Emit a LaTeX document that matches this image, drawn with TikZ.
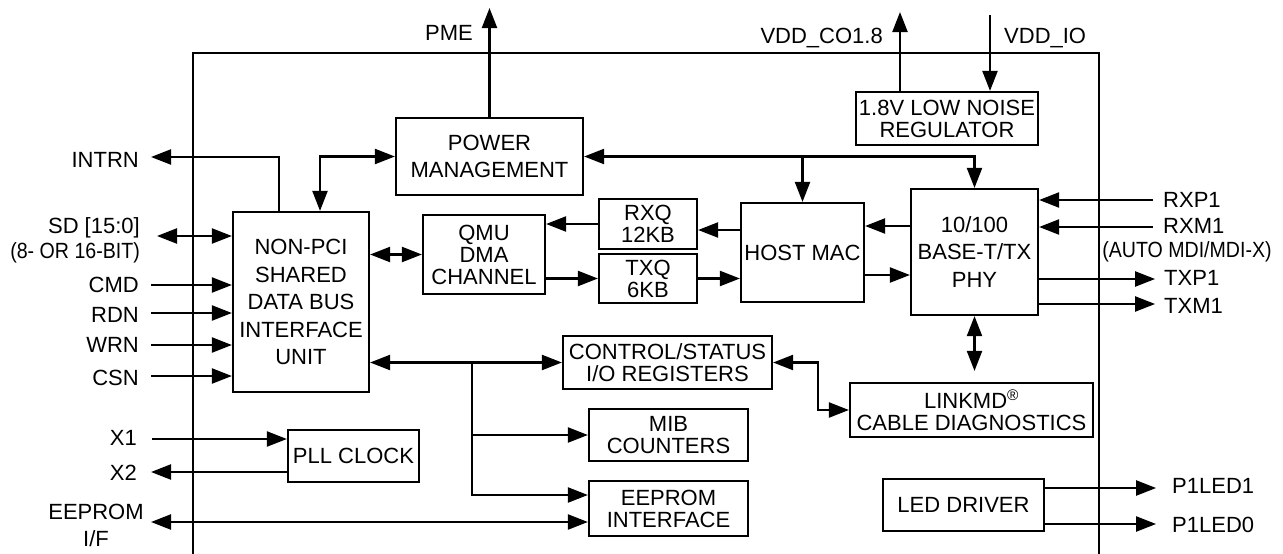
\documentclass[tikz,border=0pt]{standalone}
\usepackage{graphicx}
\usepackage{fontspec}
\setmainfont{Liberation Sans}
\usetikzlibrary{arrows.meta, positioning, calc}

\newcommand{\narrow}[1]{\scalebox{0.89}[1]{#1}}

\tikzset{
  blk/.style={rectangle, draw, line width=2.2pt, inner sep=0pt, align=center,
    font=\fontsize{22}{22}\selectfont},
  tall/.style={font=\fontsize{22}{27.5}\selectfont},
  lbl/.style={inner sep=0pt, align=center, font=\fontsize{22}{27}\selectfont},
  sig/.style={line width=2.2pt},
  >={Triangle[length=20pt,width=15pt]},
}

\begin{document}
\begin{tikzpicture}[x=1pt,y=-1pt]
    \useasboundingbox (0,0) rectangle (1283,554);

    % chip outline
    \draw[sig] (193,554) -- (193,53) -- (1099,53) -- (1099,554);

    % blocks
    \node[blk,tall,minimum width=187pt,minimum height=77pt] (pm) at (489.5,156.5) {POWER\\MANAGEMENT};
    \node[blk,minimum width=182pt,minimum height=53pt] (reg) at (947,118.5) {1.8V LOW NOISE\\REGULATOR};
    \node[blk,tall,minimum width=136pt,minimum height=180pt] (npci) at (301,302) {NON-PCI\\SHARED\\DATA BUS\\INTERFACE\\UNIT};
    \node[blk,minimum width=122pt,minimum height=79pt] (qmu) at (484,254.5) {QMU\\DMA\\CHANNEL};
    \node[blk,minimum width=98pt,minimum height=50pt] (rxq) at (648,224) {RXQ\\12KB};
    \node[blk,minimum width=98pt,minimum height=49pt] (txq) at (648,278.5) {TXQ\\6KB};
    \node[blk,minimum width=123pt,minimum height=99pt] (mac) at (802.5,252.5) {HOST MAC};
    \node[blk,tall,minimum width=127pt,minimum height=126pt] (phy) at (974.5,252) {10/100\\BASE-T/TX\\PHY};
    \node[blk,minimum width=209pt,minimum height=53pt] (ctrl) at (667.5,362.5) {CONTROL/STATUS\\I/O REGISTERS};
    \node[blk,minimum width=159pt,minimum height=52pt] (mib) at (668.5,435) {MIB\\COUNTERS};
    \node[blk,minimum width=159pt,minimum height=55pt] (eep) at (668.5,508.5) {EEPROM\\INTERFACE};
    \node[blk,minimum width=131pt,minimum height=52pt] (pll) at (353.5,456) {PLL CLOCK};
    \node[blk,minimum width=243pt,minimum height=54pt] (link) at (971.5,410) {LINKMD\textsuperscript{\textregistered}\\CABLE DIAGNOSTICS};
    \node[blk,minimum width=161pt,minimum height=52pt] (led) at (963.5,505) {LED DRIVER};

    % supply and power pins
    \coordinate (pme) at (489.5,8);
    \node[lbl,anchor=base east] (pmelbl) at (473,40) {PME};
    \draw[sig,->] (pm.north) -- (pme);
    \coordinate (vco) at (900,12);
    \node[lbl,anchor=base east] (vcolbl) at (883,43) {VDD\_CO1.8};
    \draw[sig,->] (vco |- reg.north) -- (vco);
    \coordinate (vio) at (990,15);
    \node[lbl,anchor=base west] (violbl) at (1004,43) {VDD\_IO};
    \draw[sig,->] (vio) -- (vio |- reg.north);

    % power management bus
    \draw[sig,<->] (pm.east) -| (phy.north);
    \draw[sig,->] (mac.north |- pm.east) -- (mac.north);
    \draw[sig,<->] (pm.west) -| ([xshift=19pt]npci.north);

    % host bus pins
    \coordinate (intrn) at (151,157);
    \node[lbl,anchor=base east] (intrnlbl) at (139,167) {INTRN};
    \draw[sig,->] ([xshift=-22pt]npci.north) |- (intrn);
    \coordinate (sd) at (157,236);
    \node[lbl,anchor=base east] (sdlbl) at (140,233) {SD [15:0]};
    \node[lbl,anchor=base east] (sdbits) at (140,258) {\narrow{(8- OR 16-BIT)}};
    \draw[sig,<->] (sd) -- (npci.west |- sd);
    \foreach \nm/\yy/\by in {CMD/285/292, RDN/313/322, WRN/345/352, CSN/376/385} {
        \node[lbl,anchor=base east] (l\nm) at (139,\by) {\nm};
        \coordinate (p\nm) at (151,\yy);
        \draw[sig,->] (p\nm) -- (npci.west |- p\nm);
    }

    % clock and eeprom pins
    \node[lbl,anchor=base east] (x1lbl) at (137,445) {X1};
    \coordinate (x1) at (152,439);
    \draw[sig,->] (x1) -- (pll.west |- x1);
    \node[lbl,anchor=base east] (x2lbl) at (137,480) {X2};
    \coordinate (x2) at (151,472);
    \draw[sig,->] (pll.west |- x2) -- (x2);
    \node[lbl] (eeplbl) at (96,525) {EEPROM\\I/F};
    \coordinate (eepif) at (151,522);
    \draw[sig,<->] (eepif) -- (eep.west |- eepif);

    % data path
    \draw[sig,<->] (npci.east |- qmu.west) -- (qmu.west);
    \draw[sig,->] (rxq.west) -- (qmu.east |- rxq.west);
    \draw[sig,->] (qmu.east |- txq.west) -- (txq.west);
    \draw[sig,->] (txq.east) -- (mac.west |- txq.east);
    \draw[sig,->] ([yshift=-6pt]mac.west |- rxq.east) -- ([yshift=-6pt]rxq.east);
    \draw[sig,->] ([yshift=26pt]phy.west) -- ([yshift=26pt]mac.east |- phy.west);
    \draw[sig,->] ([yshift=-23pt]mac.east |- phy.west) -- ([yshift=-23pt]phy.west);

    % register bus
    \coordinate (bus) at (472,362.5);
    \draw[sig,<->] (npci.east |- ctrl.west) -- (ctrl.west);
    \draw[sig,->] (bus) |- (mib.west);
    \draw[sig,->] (bus) |- ([yshift=13.5pt]eep.west);
    \draw[sig,<->] (ctrl.east) -- ++(45,0) |- (link.west);
    \draw[sig,<->,shorten >=11pt] (phy.south) -- (phy.south |- link.north);

    % line pins
    \foreach \nm/\dy/\by in {RXP1/52/207, RXM1/25/233} {
        \node[lbl,anchor=base west] (l\nm) at (1163,\by) {\nm};
        \coordinate (p\nm) at ([xshift=114pt,yshift=\dy pt]phy.east);
        \draw[sig,->] (p\nm) -- ([yshift=\dy pt]phy.east);
    }
    \node[lbl,anchor=base] (mdix) at (1187,257) {\narrow{(AUTO MDI/MDI-X)}};
    \foreach \nm/\dy/\by in {TXP1/-27/285, TXM1/-52/313} {
        \node[lbl,anchor=base west] (l\nm) at (1164,\by) {\nm};
        \coordinate (p\nm) at ([xshift=116pt,yshift=\dy pt]phy.east);
        \draw[sig,->] ([yshift=\dy pt]phy.east) -- (p\nm);
    }

    % led pins
    \foreach \nm/\dy/\by in {P1LED1/17/493, P1LED0/-19/532} {
        \node[lbl,anchor=base west] (l\nm) at (1172,\by) {\nm};
        \coordinate (p\nm) at ([xshift=111pt,yshift=\dy pt]led.east);
        \draw[sig,->] ([yshift=\dy pt]led.east) -- (p\nm);
    }
\end{tikzpicture}
\end{document}
